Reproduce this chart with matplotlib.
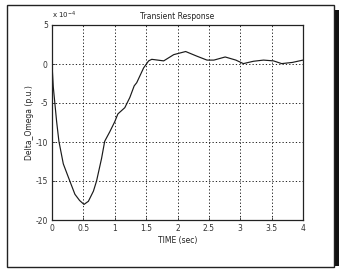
"""Transient response of Delta_Omega (scanned MATLAB-style figure)."""

import matplotlib
matplotlib.use("Agg")
import matplotlib.pyplot as plt
from matplotlib.patches import Rectangle

# time (sec) and Delta_Omega (x 1e-4 p.u.)
t = [0.0, 0.02, 0.074, 0.11, 0.18, 0.26, 0.365, 0.44, 0.51, 0.58, 0.66,
     0.71, 0.79, 0.84, 0.92, 1.0, 1.05, 1.16, 1.24, 1.31, 1.35, 1.46,
     1.54, 1.59, 1.78, 1.94, 2.13, 2.31, 2.47, 2.58, 2.76, 2.93, 3.05,
     3.21, 3.37, 3.53, 3.66, 3.83, 4.0]
omega = [0.0, -2.9, -7.4, -9.9, -12.8, -14.5, -16.7, -17.5, -18.0, -17.6,
         -16.3, -15.0, -12.1, -9.9, -8.7, -7.4, -6.4, -5.6, -4.3, -2.8,
         -2.4, -0.5, 0.4, 0.6, 0.4, 1.2, 1.6, 1.0, 0.5, 0.5, 0.9, 0.5,
         0.05, 0.35, 0.5, 0.4, 0.05, 0.2, 0.5]

xticks = [0, 0.5, 1, 1.5, 2, 2.5, 3, 3.5, 4]
xtick_labels = ["0", "0.5", "1", "1.5", "2", "2.5", "3", "3.5", "4"]
yticks = [5, 0, -5, -10, -15, -20]
ytick_labels = ["5", "0", "-5", "-10", "-15", "-20"]


def main():
    fig = plt.figure(figsize=(3.39, 2.70), dpi=100)
    fig.patch.set_facecolor("white")

    # outer window frame with a dark shadow strip on the right
    fig.patches.append(Rectangle((333 / 339, 4 / 270), 6 / 339, 256 / 270,
                                 transform=fig.transFigure, facecolor="#111111",
                                 edgecolor="none", zorder=0))
    fig.patches.append(Rectangle((7 / 339, 3 / 270), 327 / 339, 262 / 270,
                                 transform=fig.transFigure, facecolor="white",
                                 edgecolor="#222222", lw=1.0, zorder=0.5))

    ax = fig.add_axes([52 / 339, 50 / 270, 251 / 339, 195 / 270])
    ax.set_zorder(2)
    ax.plot(t, omega, color="#1a1a1a", lw=0.85)

    ax.set_xlim(0, 4)
    ax.set_ylim(-20, 5)
    ax.set_xticks(xticks)
    ax.set_xticklabels(xtick_labels)
    ax.set_yticks(yticks)
    ax.set_yticklabels(ytick_labels)
    ax.tick_params(direction="in", length=2, width=0.6, labelsize=5.5,
                   colors="#333333", pad=3)
    ax.grid(True, color="black", ls=(0, (1.5, 2.5)), lw=0.6)
    for s in ax.spines.values():
        s.set_linewidth(0.9)
        s.set_color("#222222")

    ax.set_title("Transient Response", fontsize=5.5, pad=4, color="#222222")
    ax.set_xlabel("TIME (sec)", fontsize=5.5, labelpad=2, color="#222222")
    ax.set_ylabel("Delta_Omega (p.u.)", fontsize=5.5, labelpad=1, color="#222222")
    ax.text(0.0, 1.02, r"x 10$^{-4}$", transform=ax.transAxes, fontsize=5,
            ha="left", va="bottom", color="#222222")

    fig.savefig("out.png", dpi=100, facecolor="white")
    plt.close(fig)


if __name__ == "__main__":
    main()
